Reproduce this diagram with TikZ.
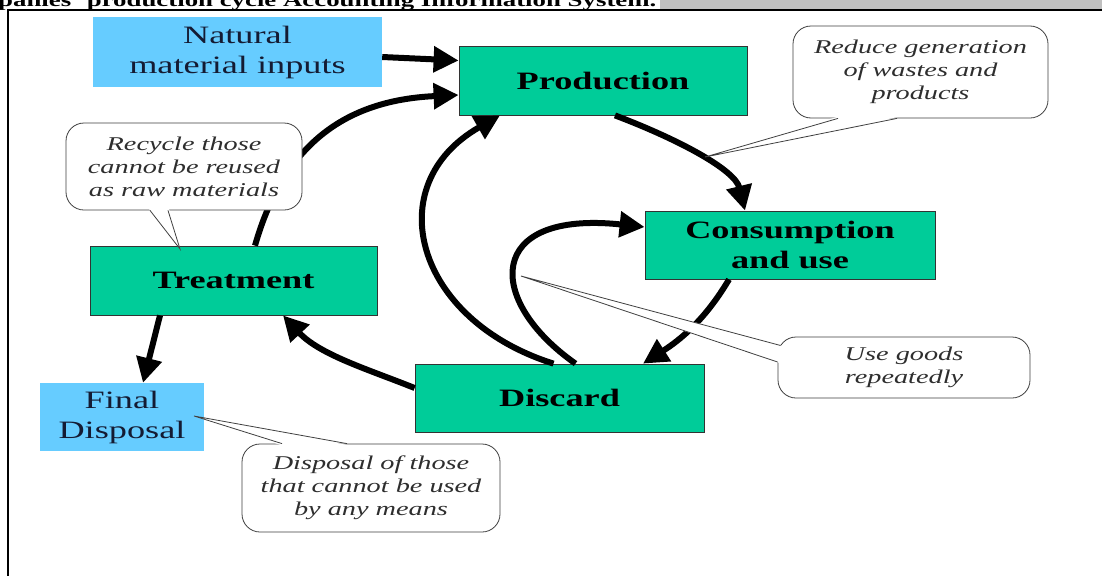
\documentclass[tikz,border=0pt]{standalone}
\usepackage{fontspec}
\setmainfont{Liberation Serif}[FakeStretch=1.45]
\usetikzlibrary{arrows.meta,calc}
\definecolor{boxgreen}{HTML}{00CC99}
\definecolor{boxblue}{HTML}{66CCFF}
\definecolor{navy}{HTML}{141B33}
\definecolor{callgray}{HTML}{2E2E2E}
\definecolor{stripgray}{HTML}{C0C0C0}
\begin{document}
\begin{tikzpicture}[x=1pt,y=-1pt,
  stage/.style={draw=black!80, line width=0.8pt, fill=boxgreen, minimum width=288pt, minimum height=69pt, inner sep=0pt, font=\fontsize{25}{30}\selectfont\bfseries, align=center},
  source/.style={fill=boxblue, inner sep=0pt, font=\fontsize{25}{30}\selectfont, text=navy, align=center},
  callbox/.style={draw=black!75, line width=0.8pt, fill=white, rounded corners=18pt, inner sep=0pt, font=\fontsize{19.5}{23}\selectfont\itshape, text=callgray, align=center},
  flow/.style={line width=6pt, -{Triangle[length=25pt,width=25pt]}},
  ptr/.style={draw=black!75, line width=0.8pt},
]
\useasboundingbox (0,0) rectangle (1102,576);
\clip (0,0) rectangle (1102,576);
\fill[white] (0,0) rectangle (1102,576);
% header strip
\fill[stripgray] (660,0) rectangle (1102,9);
\node[anchor=base west, inner sep=0pt, font=\fontsize{18.5}{22}\selectfont\bfseries] (title) at (-2,6) {panies' production cycle Accounting Information System.};
\draw[line width=2pt] (7,10) -- (1102,10);
\draw[line width=2pt] (8,10) -- (8,576);

% boxes
\node[source, minimum width=289pt, minimum height=70pt] (nat) at (237.5,52) {Natural\\material inputs};
\node[stage] (prod) at (603,80.5) {Production};
\node[stage, minimum width=290pt, minimum height=68pt] (cons) at (790,245) {Consumption\\and use};
\node[stage, minimum width=287pt] (treat) at (233.5,280.5) {Treatment};
\node[stage, minimum width=289pt, minimum height=68pt] (disc) at (559.5,398) {Discard};
\node[source, minimum width=164pt, minimum height=68pt] (fin) at (122,417) {Final\\Disposal};

% flows
\draw[flow] ($(nat.east)+(0,5)$) -- ($(prod.west)+(0,-20)$);
\draw[flow] ($(treat.north)+(21.5,0)$) .. controls (285,140) and (350,100) .. ($(prod.west)+(0,14.5)$);
\draw[flow] ($(disc.north)+(-6,0)$) .. controls (415,320) and (378,185) .. ($(prod.south)+(-103,0)$);
\draw[flow] ($(disc.north)+(16,0)$) .. controls (485,300) and (485,210) .. ($(cons.west)+(0,-18)$);
\draw[flow] ($(prod.south)+(12,0)$) .. controls (680,140) and (735,170) .. ($(cons.north)+(-45,0)$);
\draw[flow] ($(cons.south)+(-61,0)$) .. controls (705,320) and (680,340) .. ($(disc.north)+(83.5,0)$);
\draw[flow] ($(disc.west)+(0,-10)$) .. controls (370,370) and (320,355) .. ($(treat.south)+(49.5,0)$);
\draw[flow] ($(treat.south)+(-73.5,0)$) -- ($(fin.north)+(21,0)$);

% callouts
\node[callbox, minimum width=255pt, minimum height=92pt] (c1) at (920.5,72) {Reduce generation\\of wastes and\\products};
\coordinate (c1tip) at (705,157);
\fill[white] ($(c1.south)+(-83.5,-1.5)$) -- (c1tip) -- ($(c1.south)+(-22.5,-1.5)$) -- cycle;
\draw[ptr] ($(c1.south)+(-82.5,0)$) -- (c1tip) -- ($(c1.south)+(-23.5,0)$);

\node[callbox, minimum width=236pt, minimum height=87pt] (c2) at (184,166.5) {Recycle those\\cannot be reused\\as raw materials};
\coordinate (c2tip) at (180,249);
\fill[white] ($(c2.south)+(-35,-1.5)$) -- (c2tip) -- ($(c2.south)+(-15,-1.5)$) -- cycle;
\draw[ptr] ($(c2.south)+(-34,0)$) -- (c2tip) -- ($(c2.south)+(-16,0)$);

\node[callbox, minimum width=252pt, minimum height=61pt] (c3) at (904,367.5) {Use goods\\repeatedly};
\coordinate (c3tip) at (521,276);
\fill[white] ($(c3.west)+(4,-22)$) -- (c3tip) -- ($(c3.west)+(2,-4.5)$) -- cycle;
\draw[ptr] ($(c3.west)+(3,-22)$) -- (c3tip) -- ($(c3.west)+(0,-5.5)$);

\node[callbox, minimum width=258pt, minimum height=88pt] (c4) at (371,488) {Disposal of those\\that cannot be used\\by any means};
\coordinate (c4tip) at (194,416);
\fill[white] ($(c4.north)+(-90,1.5)$) -- (c4tip) -- ($(c4.north)+(-23,1.5)$) -- cycle;
\draw[ptr] ($(c4.north)+(-89,0)$) -- (c4tip) -- ($(c4.north)+(-24,0)$);
\end{tikzpicture}
\end{document}
